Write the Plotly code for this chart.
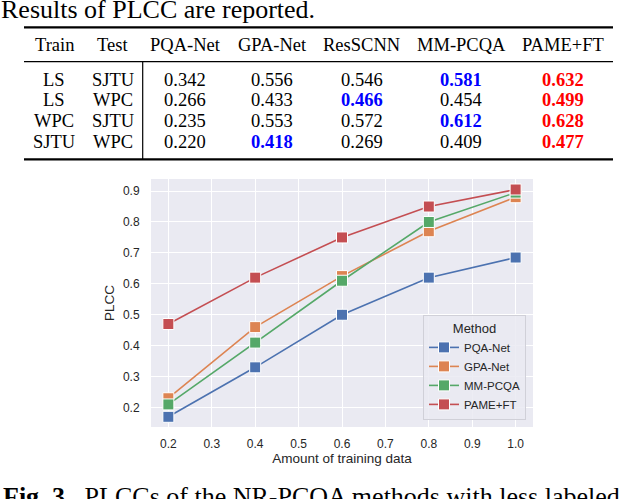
import plotly.graph_objects as go

W, H = 640, 499

# --- table data ---
train_set = ["LS", "LS", "WPC", "SJTU"]
test_set = ["SJTU", "WPC", "SJTU", "WPC"]
table_methods = ["PQA-Net", "GPA-Net", "ResSCNN", "MM-PCQA", "PAME+FT"]
tab_pqa_net = [0.342, 0.266, 0.235, 0.220]
tab_gpa_net = [0.556, 0.433, 0.553, 0.418]
tab_resscnn = [0.546, 0.466, 0.572, 0.269]
tab_mm_pcqa = [0.581, 0.454, 0.612, 0.409]
tab_pame_ft = [0.632, 0.499, 0.628, 0.477]

# --- line chart data ---
train_frac = [0.2, 0.4, 0.6, 0.8, 1.0]
plcc_pqa_net = [0.17, 0.33, 0.50, 0.62, 0.685]
plcc_gpa_net = [0.23, 0.46, 0.625, 0.77, 0.88]
plcc_mm_pcqa = [0.21, 0.41, 0.61, 0.80, 0.895]
plcc_pame_ft = [0.47, 0.62, 0.75, 0.85, 0.905]

series = [
    ("PQA-Net", plcc_pqa_net, "#4C72B0"),
    ("GPA-Net", plcc_gpa_net, "#DD8452"),
    ("MM-PCQA", plcc_mm_pcqa, "#55A868"),
    ("PAME+FT", plcc_pame_ft, "#C44E52"),
]


def px(x):
    return x / W


def py(y):
    return 1 - y / H


fig = go.Figure()
for name, vals, col in series:
    fig.add_trace(go.Scatter(
        x=train_frac, y=vals, name=name, mode="lines+markers",
        line=dict(color=col, width=1.6),
        marker=dict(symbol="square", size=11, color=col,
                    line=dict(color="white", width=1)),
    ))

serif = "Liberation Serif, Times New Roman, serif"
sans = "Liberation Sans, Arial, sans-serif"
txt = "#262626"

ann = []
shapes = []


def label(text, x, y, size, color="black", anchor="center", family=serif):
    ann.append(dict(text=text, x=px(x), y=py(y), xref="paper", yref="paper",
                    xanchor=anchor, yanchor="middle", showarrow=False,
                    font=dict(family=family, size=size, color=color)))


# text above table and caption below chart
label("Results of PLCC are reported.", -1, 9, 26, anchor="left")
label("<b>Fig. 3.</b>  PLCCs of the NR-PCQA methods with less labeled", 1, 496, 26, anchor="left")

# table
col_x = [54, 112.5, 185.3, 272, 361.7, 461, 562.7]
header_y = 45
row_y = [79.7, 100.3, 120.7, 141.7]
headers = ["Train", "Test"] + table_methods
for cx, h in zip(col_x, headers):
    label(h, cx, header_y, 18.5)

cols = [tab_pqa_net, tab_gpa_net, tab_resscnn, tab_mm_pcqa, tab_pame_ft]
for r in range(len(train_set)):
    row_vals = [c[r] for c in cols]
    ranked = sorted(row_vals, reverse=True)
    cells = [(train_set[r], "black"), (test_set[r], "black")]
    for v in row_vals:
        if v == ranked[0]:
            cells.append((f"<b>{v:.3f}</b>", "#ff0000"))
        elif v == ranked[1]:
            cells.append((f"<b>{v:.3f}</b>", "#0000ff"))
        else:
            cells.append((f"{v:.3f}", "black"))
    for cx, (t, c) in zip(col_x, cells):
        label(t, cx, row_y[r], 18.5, color=c)

for yy, lw in [(27.3, 2.2), (61.7, 1.2), (159.3, 2.2)]:
    shapes.append(dict(type="line", xref="paper", yref="paper", x0=px(24), x1=px(613),
                       y0=py(yy), y1=py(yy), line=dict(color="black", width=lw)))
shapes.append(dict(type="line", xref="paper", yref="paper", x0=px(142.7), x1=px(142.7),
                   y0=py(61.7), y1=py(159.3), line=dict(color="black", width=1.2)))

fig.update_layout(
    width=W, height=H,
    margin=dict(l=0, r=0, t=0, b=0),
    paper_bgcolor="white",
    plot_bgcolor="#EAEAF2",
    font=dict(family=sans, color=txt, size=12),
    annotations=ann,
    shapes=shapes,
    legend=dict(
        title=dict(text="Method", side="top center", font=dict(size=13, color=txt)),
        x=px(526), xanchor="right", y=py(420), yanchor="bottom",
        bgcolor="rgba(234,234,242,0.85)", bordercolor="#d0d0d8", borderwidth=1,
        font=dict(size=11.5, color=txt), tracegroupgap=0,
    ),
    xaxis=dict(
        domain=[151 / W, 533 / W], range=[0.16, 1.04],
        tickvals=[0.2, 0.3, 0.4, 0.5, 0.6, 0.7, 0.8, 0.9, 1.0],
        ticktext=["0.2", "0.3", "0.4", "0.5", "0.6", "0.7", "0.8", "0.9", "1.0"],
        showgrid=True, gridcolor="white", gridwidth=1.3, zeroline=False,
        showline=False, ticks="outside", ticklen=6, tickcolor="rgba(0,0,0,0)",
        tickfont=dict(size=12, color=txt),
        title=dict(text="Amount of training data", standoff=3, font=dict(size=13.5, color=txt)),
        automargin=False,
    ),
    yaxis=dict(
        domain=[1 - 427 / H, 1 - 179 / H], range=[0.137, 0.939],
        tickvals=[0.2, 0.3, 0.4, 0.5, 0.6, 0.7, 0.8, 0.9],
        ticktext=["0.2", "0.3", "0.4", "0.5", "0.6", "0.7", "0.8", "0.9"],
        showgrid=True, gridcolor="white", gridwidth=1.3, zeroline=False,
        showline=False, ticks="outside", ticklen=8, tickcolor="rgba(0,0,0,0)",
        tickfont=dict(size=12, color=txt),
        title=dict(text="PLCC", standoff=5, font=dict(size=13.5, color=txt)),
        automargin=False,
    ),
)

# page body has a default 8px margin; drop it so the figure sits at the window origin
fig.write_html("out.html", config={"displayModeBar": False},
               post_script="document.body.style.margin='0';")
